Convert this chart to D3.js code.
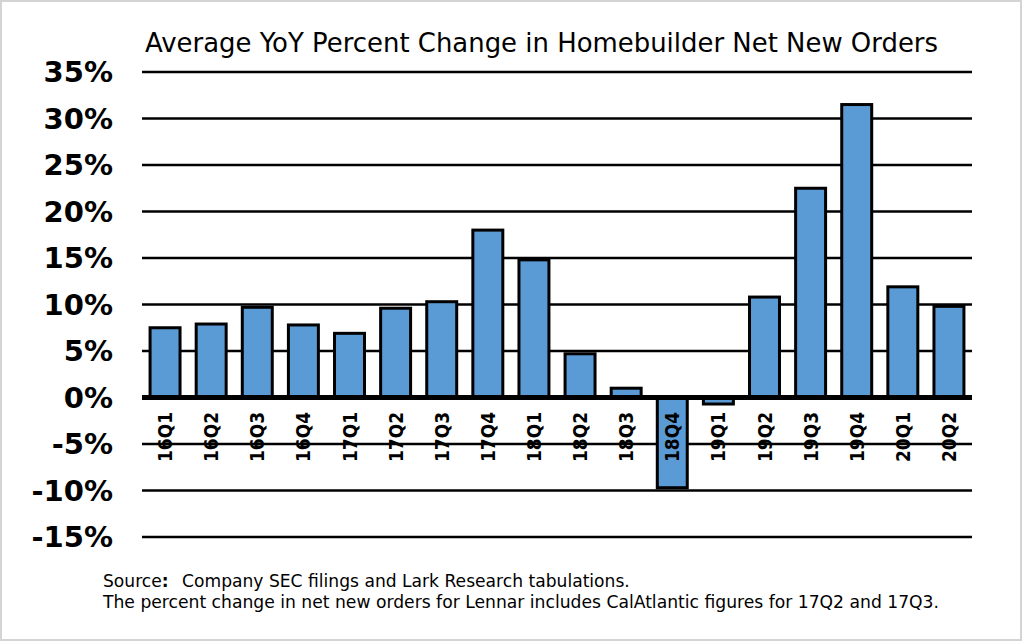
<!DOCTYPE html>
<html>
<head>
<meta charset="utf-8">
<script src="https://cdn.jsdelivr.net/npm/d3@7"></script>
<style>
  html, body { margin: 0; padding: 0; background: #fff; }
  svg { display: block; }
</style>
</head>
<body>
<div id="chart"></div>
<script>
// chart data
var quarters = ["16Q1", "16Q2", "16Q3", "16Q4", "17Q1", "17Q2", "17Q3", "17Q4", "18Q1",
                "18Q2", "18Q3", "18Q4", "19Q1", "19Q2", "19Q3", "19Q4", "20Q1", "20Q2"];
var yoyChange = [7.5, 7.9, 9.7, 7.8, 6.9, 9.6, 10.3, 18.0, 14.8,
                 4.7, 1.0, -9.7, -0.7, 10.8, 22.5, 31.5, 11.9, 9.8];
var yTicks = [35, 30, 25, 20, 15, 10, 5, 0, -5, -10, -15];

var titleText = "Average YoY Percent Change in Homebuilder Net New Orders";
var sourceParts = [{t: "Source", bold: false}, {t: ":", bold: true},
                   {t: "Company SEC filings and Lark Research tabulations.", bold: false}];
var noteText = "The percent change in net new orders for Lennar includes CalAtlantic figures for 17Q2 and 17Q3.";

var width = 1024, height = 644;
var plot = {left: 142, right: 972, top: 72, bottom: 537};
var font = "'DejaVu Sans', Verdana, sans-serif";

var svg = d3.select("#chart")
    .append("svg")
        .attr("width", width)
        .attr("height", height);

// outer frame
svg.append("rect")
    .attr("x", 1).attr("y", 1)
    .attr("width", 1020).attr("height", 639)
    .attr("fill", "none")
    .attr("stroke", "#d4d4d4")
    .attr("stroke-width", 2);

// scales
var x = d3.scaleBand()
    .domain(quarters)
    .range([plot.left, plot.right])
    .paddingInner(0.35)
    .paddingOuter(0.175);

var y = d3.scaleLinear()
    .domain([-15, 35])
    .range([plot.bottom, plot.top]);

// gridlines
svg.append("g")
    .selectAll("line")
    .data(yTicks.filter(function(d) { return d !== 0; }))
    .enter()
    .append("line")
        .attr("x1", plot.left).attr("x2", plot.right)
        .attr("y1", function(d) { return y(d); })
        .attr("y2", function(d) { return y(d); })
        .attr("stroke", "#000")
        .attr("stroke-width", 2.6);

// y tick labels
svg.append("g")
    .selectAll("text")
    .data(yTicks)
    .enter()
    .append("text")
        .attr("x", 113)
        .attr("y", function(d) { return y(d); })
        .attr("dy", "0.36em")
        .attr("text-anchor", "end")
        .style("font-family", font)
        .style("font-weight", "bold")
        .style("font-size", "29px")
        .text(function(d) { return d + "%"; });

// bars
svg.append("g")
    .selectAll("rect")
    .data(yoyChange)
    .enter()
    .append("rect")
        .attr("x", function(d, i) { return x(quarters[i]); })
        .attr("y", function(d) { return y(Math.max(0, d)); })
        .attr("width", x.bandwidth())
        .attr("height", function(d) { return Math.abs(y(d) - y(0)); })
        .attr("fill", "#5B9BD5")
        .attr("stroke", "#000")
        .attr("stroke-width", 3);

// zero line
svg.append("line")
    .attr("x1", plot.left).attr("x2", plot.right)
    .attr("y1", y(0)).attr("y2", y(0))
    .attr("stroke", "#000")
    .attr("stroke-width", 5);

// category labels
svg.append("g")
    .selectAll("text")
    .data(quarters)
    .enter()
    .append("text")
        .attr("transform", function(d) {
            return "translate(" + (x(d) + x.bandwidth() / 2) + "," + 412 + ") rotate(-90)";
        })
        .attr("dy", "0.37em")
        .attr("text-anchor", "end")
        .attr("textLength", 50)
        .attr("lengthAdjust", "spacingAndGlyphs")
        .style("font-family", font)
        .style("font-weight", "bold")
        .style("font-size", "19px")
        .text(function(d) { return d; });

// title
svg.append("text")
    .attr("x", 145)
    .attr("y", 52)
    .attr("textLength", 793)
    .attr("lengthAdjust", "spacingAndGlyphs")
    .style("font-family", font)
    .style("font-size", "27px")
    .text(titleText);

// source line: pieces laid out side by side, then squeezed to width
var srcG = svg.append("g");
var cursor = 0;
sourceParts.forEach(function(p, i) {
    var t = srcG.append("text")
        .attr("x", cursor)
        .attr("y", 0)
        .style("font-family", font)
        .style("font-size", "18px")
        .style("font-weight", p.bold ? "bold" : "normal")
        .text(p.t);
    cursor += t.node().getComputedTextLength() + (i === 1 ? 14 : 0);
});
srcG.attr("transform", "translate(103,587) scale(" + (527 / cursor) + ",1)");

svg.append("text")
    .attr("x", 103)
    .attr("y", 608)
    .attr("textLength", 836)
    .attr("lengthAdjust", "spacingAndGlyphs")
    .style("font-family", font)
    .style("font-size", "18px")
    .text(noteText);
</script>
</body>
</html>
